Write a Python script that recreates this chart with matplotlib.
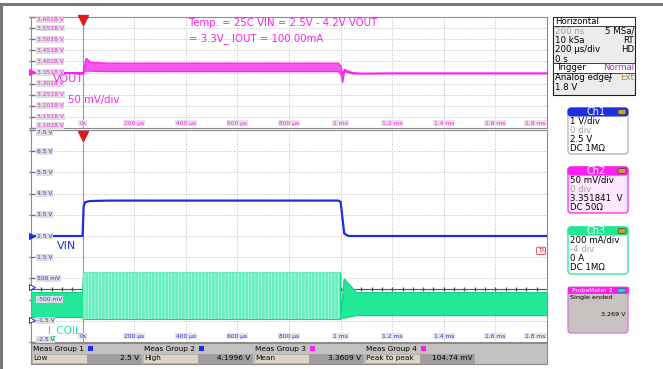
import numpy as np
import matplotlib.pyplot as plt
from matplotlib.patches import Rectangle, FancyBboxPatch
from matplotlib.transforms import blended_transform_factory

W, H = 663, 369

# time base: -0.2 .. 1.8 ms, 200 us/div
t_grid = [-0.2, 0.0, 0.2, 0.4, 0.6, 0.8, 1.0, 1.2, 1.4, 1.6, 1.8]
t_ticks = [0.0, 0.2, 0.4, 0.6, 0.8, 1.0, 1.2, 1.4, 1.6, 1.8]
t_labels = ['0s', '200 µs', '400 µs', '600 µs', '800 µs', '1 ms', '1.2 ms', '1.4 ms', '1.6 ms', '1.8 ms']

# Ch2 VOUT envelope (V)
vout_t  = [-0.20, -0.004, 0.000, 0.012, 0.030, 0.100, 0.990, 1.000, 1.006, 1.014, 1.025, 1.045, 1.080, 1.200, 1.400, 1.800]
vout_hi = [3.353, 3.353, 3.353, 3.418, 3.399, 3.396, 3.396, 3.382, 3.346, 3.369, 3.362, 3.353, 3.351, 3.352, 3.352, 3.352]
vout_lo = [3.350, 3.350, 3.350, 3.361, 3.360, 3.358, 3.358, 3.342, 3.309, 3.360, 3.354, 3.348, 3.347, 3.348, 3.348, 3.348]

# Ch1 VIN (V)
vin_t = [-0.20, 0.000, 0.004, 0.010, 0.030, 0.100, 0.990, 1.000, 1.014, 1.030, 1.800]
vin_v = [2.50, 2.50, 3.90, 4.10, 4.15, 4.17, 4.17, 4.12, 2.62, 2.50, 2.50]

# Ch3 I_COIL envelope (A)
icoil_t  = [-0.200, -0.002, 0.002, 0.998, 1.000, 1.012, 1.060, 1.800]
icoil_hi = [0.270, 0.270, 0.455, 0.455, 0.060, 0.400, 0.270, 0.270]
icoil_lo = [0.036, 0.036, 0.018, 0.018, 0.030, 0.030, 0.054, 0.054]
ch3_scale = 0.2      # A/div
ch3_zero = -1.5      # screen level of 0 A

vout_ticks = [3.6018, 3.5518, 3.5018, 3.4518, 3.4018, 3.3518, 3.3018, 3.2518, 3.2018, 3.1518, 3.1018]
vin_ticks = [7.5, 6.5, 5.5, 4.5, 3.5, 2.5, 1.5, 0.5, -0.5, -1.5, -2.5]
vin_tick_labels = ['7.5 V', '6.5 V', '5.5 V', '4.5 V', '3.5 V', '2.5 V', '1.5 V',
                   '500 mV', '-500 mV', '-1.5 V', '-2.5 V']

meas_groups = ['Meas Group 1', 'Meas Group 2', 'Meas Group 3', 'Meas Group 4']
meas_names = ['Low', 'High', 'Mean', 'Peak to peak']
meas_values = ['2.5 V', '4.1996 V', '3.3609 V', '104.74 mV']
meas_colors = ['#1a2bff', '#1a2bff', '#ff22ee', '#ff22ee']

MAG = '#ff1ef0'
BLUE = '#1c2ee0'
GREEN = '#2ee8a0'
GRID = '#a8a8a8'

plt.rcParams['font.family'] = 'DejaVu Sans'
plt.rcParams['hatch.linewidth'] = 0.5
fig = plt.figure(figsize=(W / 100, H / 100), dpi=100)


def px_axes(x0, y0, x1, y1):
    return fig.add_axes([x0 / W, 1 - y1 / H, (x1 - x0) / W, (y1 - y0) / H])


def setup(ax, ticks, ylim):
    ax.set_xlim(-0.2, 1.8)
    ax.set_ylim(*ylim)
    ax.set_xticks([])
    ax.set_yticks([])
    for s in ax.spines.values():
        s.set_color('#8c8c8c')
        s.set_linewidth(0.8)
    for t in t_grid:
        ax.axvline(t, color=GRID, lw=0.6, ls=(0, (1, 2)), zorder=1)
    for v in ticks:
        ax.axhline(v, color=GRID, lw=0.6, ls=(0, (1, 2)), zorder=1)
    ax.axvline(0, color='#9a9a9a', lw=0.8, zorder=1)
    tr = blended_transform_factory(ax.transAxes, ax.transData)
    ax.plot([0.002] * len(ticks), ticks, marker='_', ms=4, color='#707070', lw=0, transform=tr, clip_on=False)
    # trigger marker
    ax.plot(0, 0.97, marker='v', ms=7, color='#e01818',
            transform=blended_transform_factory(ax.transData, ax.transAxes), clip_on=False, zorder=6)


def tick_labels(ax, ticks, labels, color, ybox):
    tr = blended_transform_factory(ax.transAxes, ax.transData)
    n = len(ticks)
    for i, (v, lab) in enumerate(zip(ticks, labels)):
        va = 'top' if i == 0 else ('bottom' if i == n - 1 else 'center')
        ax.text(0.011, v, lab, transform=tr, fontsize=4.3, color=color, va=va, ha='left', zorder=7,
                bbox=dict(boxstyle='square,pad=0.15', fc='#dedede', ec='none'))
    trx = blended_transform_factory(ax.transData, ax.transAxes)
    for t, lab in zip(t_ticks, t_labels):
        ha = 'right' if t >= 1.8 else 'center'
        x = 1.795 if t >= 1.8 else t
        ax.text(x, ybox, lab, transform=trx, fontsize=4.3, color=color, va='center', ha=ha, zorder=7,
                bbox=dict(boxstyle='square,pad=0.15', fc='#e4e4e4', ec='none'))


# ---- top panel: VOUT
ax1 = px_axes(31, 17, 547, 128)
setup(ax1, vout_ticks, (3.1018, 3.6018))
ax1.fill_between(vout_t, vout_lo, vout_hi, color='#f656ee', edgecolor=MAG, lw=0.9, zorder=4)
tick_labels(ax1, vout_ticks, [f'{v:.4f} V' for v in vout_ticks], MAG, 0.045)
ax1.text(0.307, 0.95, 'Temp. = 25C VIN = 2.5V - 4.2V VOUT', transform=ax1.transAxes, color=MAG,
         fontsize=7.3, va='center', zorder=8)
ax1.text(0.307, 0.81, '= 3.3V_ IOUT = 100.00mA', transform=ax1.transAxes, color=MAG,
         fontsize=7.3, va='center', zorder=8)
ax1.text(0.042, 0.44, 'VOUT', transform=ax1.transAxes, color=MAG, fontsize=8, va='center', zorder=8)
ax1.text(0.072, 0.255, '50 mV/div', transform=ax1.transAxes, color=MAG, fontsize=7.3, va='center', zorder=8)

# ---- bottom panel: VIN + I_COIL
ax2 = px_axes(31, 130, 547, 342)
setup(ax2, vin_ticks, (-2.5, 7.5))
ax2.axhline(0, color='#505050', lw=0.8, zorder=2)
ax2.plot(np.arange(-0.2, 1.8, 0.04), [0] * 50, marker='|', ms=3, color='#505050', lw=0, zorder=2)
i_hi = np.array([ch3_zero + i / ch3_scale for i in icoil_hi])
i_lo = np.array([ch3_zero + i / ch3_scale for i in icoil_lo])
tt = np.array(icoil_t)
ax2.fill_between(tt, i_lo, i_hi, color='#22e89a', edgecolor='#0cd884', lw=0.9, zorder=3)
# switching region looks lighter (aliased ripple)
busy = (tt >= 0.002) & (tt <= 0.998)
ax2.fill_between(tt, i_lo, i_hi, where=busy, facecolor='#6aefc2', edgecolor='#b8f8e2',
                 hatch='|||||', lw=0, zorder=3.5)
ax2.plot(vin_t, vin_v, color=BLUE, lw=1.6, zorder=5)
tick_labels(ax2, vin_ticks, vin_tick_labels, '#2a3ae0', 0.028)
ax2.text(0.051, 0.455, 'VIN', transform=ax2.transAxes, color=BLUE, fontsize=8, va='center', zorder=8)
ax2.text(0.033, 0.052, 'I_COIL', transform=ax2.transAxes, color='#22e89a', fontsize=7.6, va='center', zorder=8)
ax2.text(0.995, 0.43, 'TA', transform=ax2.transAxes, color='#e03030', fontsize=4, va='center', ha='right',
         zorder=8, bbox=dict(boxstyle='round,pad=0.2', fc='white', ec='#e03030', lw=0.6))

# ---- overlay: frame, side boxes, measurement table (pixel coordinates)
ov = fig.add_axes([0, 0, 1, 1])
ov.set_xlim(0, W)
ov.set_ylim(H, 0)
ov.axis('off')
ov.plot([0, W], [4, 4], color='#777777', lw=2.2)
ov.plot([1, 1], [4, H], color='#777777', lw=2.2)

# channel markers on the left edge
for y, c in [(72, MAG), (236, BLUE), (287, BLUE), (320, BLUE)]:
    ov.plot(32, y, marker='>', ms=4, color=c, mfc='white' if y > 250 else c, mew=0.7, clip_on=False)

# Horizontal / trigger box
ov.add_patch(Rectangle((553, 17), 82, 78, fc='#ececec', ec='#202020', lw=0.8))
ov.add_patch(Rectangle((553, 17), 82, 9, fc='white', ec='#202020', lw=0.6))
ov.add_patch(Rectangle((553, 63), 82, 10, fc='white', ec='#202020', lw=0.6))
fs = 6.2
ov.text(555, 21.5, 'Horizontal', fontsize=fs, va='center', color='black')
ov.text(555, 31, '200 ns', fontsize=fs, va='center', color='#a0a0a0')
ov.text(634, 31, '5 MSa/', fontsize=fs, va='center', ha='right', color='black')
ov.text(555, 40.5, '10 kSa', fontsize=fs, va='center', color='black')
ov.text(634, 40.5, 'RT', fontsize=fs, va='center', ha='right', color='black')
ov.text(555, 50, '200 µs/div', fontsize=fs, va='center', color='black')
ov.text(634, 50, 'HD', fontsize=fs, va='center', ha='right', color='black')
ov.text(555, 59, '0 s', fontsize=fs, va='center', color='black')
ov.text(557, 68, 'Trigger', fontsize=fs, va='center', color='black')
ov.text(634, 68, 'Normal', fontsize=fs, va='center', ha='right', color='#9a3ca8')
ov.text(555, 78, 'Analog edge', fontsize=fs, va='center', color='black')
ov.text(608, 78, '⨍', fontsize=fs, va='center', color='black')
ov.text(634, 78, 'Ext', fontsize=fs, va='center', ha='right', color='#b08040')
ov.text(555, 88, '1.8 V', fontsize=fs, va='center', color='black')


def ch_box(y0, y1, title, color, body, rows, title_fs=7.0):
    ov.add_patch(FancyBboxPatch((568, y0), 60, y1 - y0, boxstyle='round,pad=0,rounding_size=3',
                                fc=body, ec=color if color != BLUE else '#b0b0b0', lw=0.9))
    ov.add_patch(FancyBboxPatch((568, y0), 60, 8, boxstyle='round,pad=0,rounding_size=3',
                                fc=color, ec=color, lw=0.8))
    ov.text(596, y0 + 4.3, title, fontsize=title_fs, va='center', ha='center', color='white')
    ov.add_patch(FancyBboxPatch((618, y0 + 1.5), 8, 5, boxstyle='round,pad=0,rounding_size=1.5',
                                fc='#c8a030', ec='#404020', lw=0.5))
    for k, (txt, c) in enumerate(rows):
        ov.text(569.5, y0 + 13 + 9.3 * k, txt, fontsize=6.2, va='center', color=c)


ch_box(108, 154, 'Ch1', BLUE, 'white',
       [('1 V/div', 'black'), ('0 div', '#a0a0a0'), ('2.5 V', 'black'), ('DC 1MΩ', 'black')])
ch_box(167, 213, 'Ch2', MAG, '#ffe8ff',
       [('50 mV/div', 'black'), ('0 div', '#a0a0a0'), ('3.351841  V', 'black'), ('DC 50Ω', 'black')])
ch_box(227, 274, 'Ch3', '#22e894', 'white',
       [('200 mA/div', 'black'), ('-4 div', '#a0a0a0'), ('0 A', 'black'), ('DC 1MΩ', 'black')])

ov.add_patch(FancyBboxPatch((568, 287), 60, 46, boxstyle='round,pad=0,rounding_size=3',
                            fc='#c8c2c0', ec='#e070e0', lw=0.9))
ov.add_patch(Rectangle((568, 287), 60, 6, fc=MAG, ec=MAG, lw=0.6))
ov.text(592, 290, 'ProbeMeter 2', fontsize=4.3, va='center', ha='center', color='white')
ov.add_patch(Rectangle((617, 288), 8, 4, fc='#30c8d8', ec='#206070', lw=0.4))
ov.text(570, 298, 'Single ended', fontsize=4.6, va='center', color='black')
ov.text(626, 314, '3.269 V', fontsize=4.6, va='center', ha='right', color='black')

# measurement table
ov.add_patch(Rectangle((31, 343), 516, 21, fc='#c4c2c0', ec='#8a8a8a', lw=0.8))
for k in range(4):
    x0 = 31 + 111 * k
    ov.text(x0 + 2, 348.5, meas_groups[k], fontsize=5.3, va='center', color='black')
    ov.add_patch(Rectangle((x0 + 57, 345.5), 5, 5, fc=meas_colors[k], ec='none'))
    ov.add_patch(Rectangle((x0 + 1, 354), 55, 8.5, fc='#ddd6c8', ec='#a09890', lw=0.4))
    ov.add_patch(Rectangle((x0 + 56, 354), 54, 8.5, fc='#9e9e9e', ec='#a09890', lw=0.4))
    ov.text(x0 + 2.5, 358.3, meas_names[k], fontsize=5.3, va='center', color='black')
    ov.text(x0 + 108, 358.3, meas_values[k], fontsize=5.3, va='center', ha='right', color='black')

fig.savefig('out.png', dpi=100)
